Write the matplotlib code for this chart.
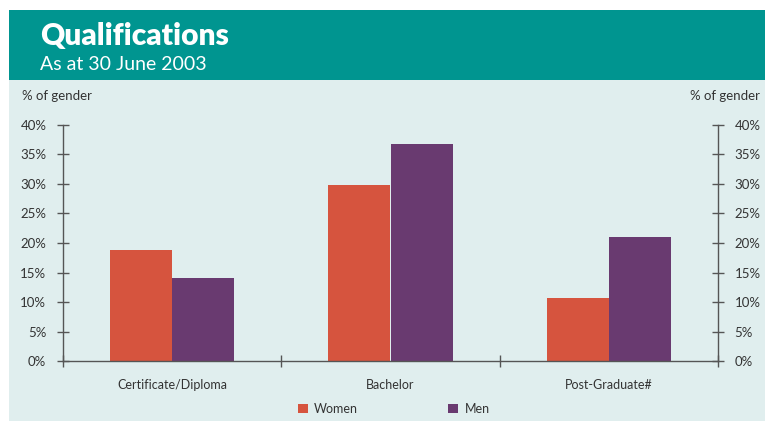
import matplotlib.pyplot as plt
from matplotlib.patches import Rectangle

categories = ["Certificate/Diploma", "Bachelor", "Post-Graduate#"]
women = [18.8, 29.8, 10.7]
men = [14.1, 36.8, 21.0]
y_ticks = [0, 5, 10, 15, 20, 25, 30, 35, 40]
y_labels = [f"{t}%" for t in y_ticks]

women_color = "#D6543E"
men_color = "#693A70"
teal = "#009590"
panel = "#E0EEEE"
ink = "#333333"

plt.rcParams["font.family"] = ["Lato", "DejaVu Sans"]

fig = plt.figure(figsize=(7.65, 4.23), dpi=100)
fig.patch.set_facecolor("white")

# background panel and header band
fig.add_artist(Rectangle((9 / 765, 2 / 423), 1, 1 - 82 / 423, transform=fig.transFigure,
                         facecolor=panel, edgecolor="none", zorder=0))
fig.add_artist(Rectangle((9 / 765, 1 - 80 / 423), 1, 70 / 423, transform=fig.transFigure,
                         facecolor=teal, edgecolor="none", zorder=0))
fig.text(40 / 765, 1 - 36 / 423, "Qualifications", color="white", fontsize=21.5,
         fontweight="heavy", va="center", ha="left", zorder=5)
fig.text(40 / 765, 1 - 64 / 423, "As at 30 June 2003", color="white", fontsize=14,
         fontweight="normal", va="center", ha="left", zorder=5)

ax = fig.add_axes([63 / 765, 62 / 423, 655 / 765, 236 / 423])
ax.set_facecolor("none")

x = [i + 0.5 for i in range(len(categories))]
w = 0.285
ax.bar([p - w / 2 for p in x], women, width=w, color=women_color, label="Women", zorder=2)
ax.bar([p + w / 2 for p in x], men, width=w, color=men_color, label="Men", zorder=2)

ax.set_xlim(0, 3)
ax.set_ylim(0, 40)
ax.spines["top"].set_visible(False)
for s in ["left", "right", "bottom"]:
    ax.spines[s].set_color("#555555")
    ax.spines[s].set_linewidth(1.0)

ax.set_yticks(y_ticks)
ax.set_yticklabels(y_labels)
ax.tick_params(axis="y", which="both", direction="inout", length=8, width=1,
               color="#555555", labelsize=9.5, labelcolor=ink, pad=8,
               left=True, right=True, labelleft=True, labelright=True)

ax.set_xticks([0, 1, 2, 3])
ax.set_xticklabels([])
ax.set_xticks(x, minor=True)
ax.set_xticklabels(categories, minor=True)
ax.tick_params(axis="x", which="major", direction="inout", length=9, width=1, color="#555555")
ax.tick_params(axis="x", which="minor", length=0, pad=13, labelsize=9, labelcolor=ink)

fig.text(22 / 765, 1 - 96 / 423, "% of gender", fontsize=9.5, color=ink, va="center", ha="left")
fig.text(760 / 765, 1 - 96 / 423, "% of gender", fontsize=9.5, color=ink, va="center", ha="right")

ax.legend(loc="upper center", bbox_to_anchor=(0.505, -0.13), ncol=2, frameon=False,
          fontsize=9, handlelength=0.8, handleheight=0.8, columnspacing=7.2,
          handletextpad=0.5, labelcolor=ink)

fig.savefig("out.png", dpi=100, facecolor=fig.get_facecolor())
